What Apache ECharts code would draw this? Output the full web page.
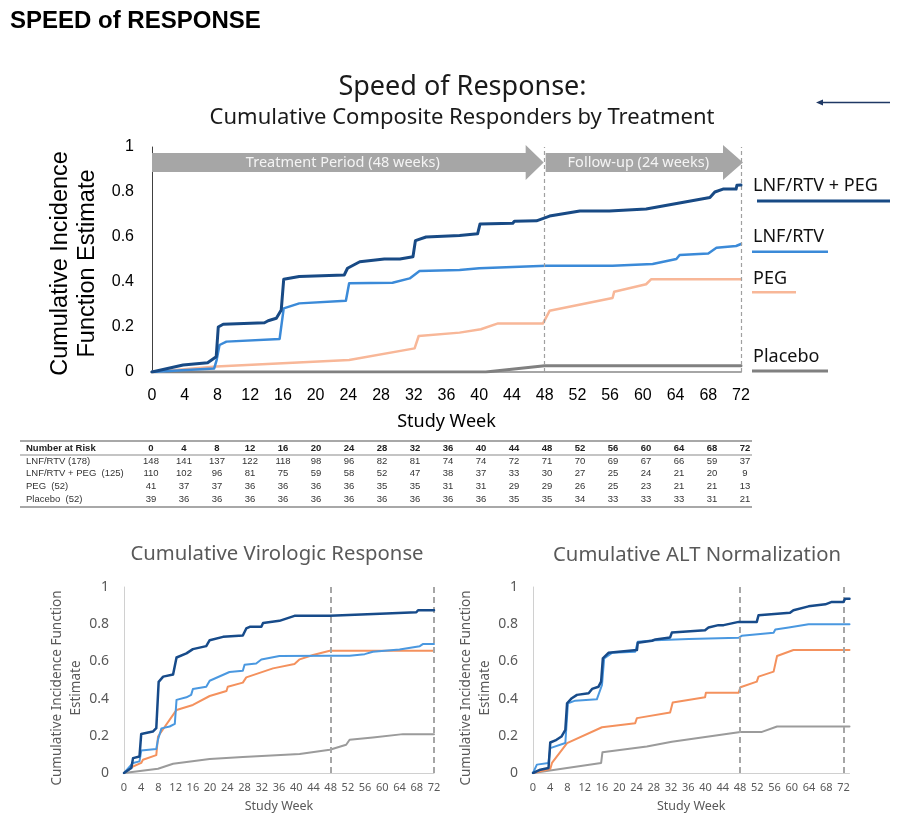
<!DOCTYPE html>
<html><head><meta charset="utf-8">
<script src="https://cdn.jsdelivr.net/npm/echarts@6/dist/echarts.min.js"></script>
<style>html,body{margin:0;padding:0;background:#fff}#c{width:903px;height:828px}</style>
</head><body><div id="c"></div><script>
// ---------- data ----------
const weekTicks = [0,4,8,12,16,20,24,28,32,36,40,44,48,52,56,60,64,68,72];
const seriesNames = ['LNF/RTV + PEG','LNF/RTV','PEG','Placebo'];

// main panel: composite responders
const mainCombo = [[0,0],[3.8,0.031],[6.8,0.041],[7.85,0.068],[8.1,0.2],[8.7,0.212],[13.75,0.219],[14.2,0.228],[15.2,0.239],[15.8,0.276],[16.1,0.412],[18,0.424],[23.5,0.431],[23.9,0.461],[25.4,0.49],[28.4,0.502],[30.3,0.502],[31.9,0.512],[32.2,0.584],[33.5,0.6],[37.6,0.607],[39.8,0.614],[40.1,0.658],[44.1,0.661],[44.3,0.67],[47,0.672],[48.1,0.686],[48.6,0.693],[52.3,0.716],[55.9,0.716],[60.4,0.724],[68.2,0.776],[68.8,0.8],[69.8,0.813],[71.4,0.813],[71.5,0.83],[72,0.831]];
const mainLnf = [[0,0],[4.2,0.009],[7.6,0.016],[7.9,0.053],[8.25,0.12],[9.1,0.135],[15.6,0.147],[16.1,0.283],[18,0.305],[23.7,0.317],[24.1,0.394],[29.4,0.397],[31.5,0.416],[32.7,0.449],[37.6,0.453],[40,0.461],[48.2,0.472],[56.3,0.472],[61.2,0.48],[64.1,0.502],[64.5,0.52],[68,0.527],[69,0.552],[71.4,0.56],[72,0.569]];
const mainPeg = [[0,0],[7.85,0.024],[24.1,0.053],[32.1,0.105],[32.6,0.16],[37.6,0.175],[40.2,0.19],[42.3,0.216],[47.8,0.216],[48.6,0.272],[56.3,0.329],[56.5,0.357],[60.4,0.39],[61,0.412],[72,0.412]];
const mainPlacebo = [[0,0],[40.8,0],[48,0.028],[72,0.028]];

// virologic response
const virCombo = [[0,0],[1.7,0.027],[2.1,0.08],[3.6,0.089],[4.0,0.21],[6.7,0.223],[7.5,0.241],[8.05,0.49],[9.1,0.518],[11.4,0.53],[12.2,0.621],[14.5,0.643],[16,0.666],[19.1,0.682],[19.9,0.714],[23,0.732],[27.6,0.739],[28.4,0.777],[29.2,0.786],[31.9,0.786],[32.3,0.807],[36.1,0.818],[39.6,0.845],[47.8,0.845],[60.9,0.857],[67.9,0.864],[68.3,0.875],[72,0.875]];
const virLnf = [[0,0],[2.1,0.054],[3.6,0.0625],[4.0,0.121],[7.5,0.129],[7.9,0.18],[8.7,0.24],[10.6,0.25],[11.8,0.264],[12.2,0.393],[14.5,0.407],[15.6,0.42],[16,0.452],[19.1,0.464],[19.9,0.496],[24.5,0.543],[27.6,0.55],[28,0.582],[30.7,0.589],[31.9,0.61],[36.1,0.629],[47.8,0.63],[52.4,0.63],[55.9,0.639],[57.8,0.652],[64,0.664],[68.7,0.682],[69.4,0.693],[72,0.693]];
const virPeg = [[0,0],[1.3,0.027],[4,0.054],[4.4,0.071],[7.5,0.096],[7.9,0.196],[12.2,0.339],[16,0.366],[19.9,0.414],[23.8,0.441],[24.1,0.464],[27.6,0.486],[28.4,0.514],[34.6,0.5625],[39.6,0.586],[40.8,0.611],[43.9,0.634],[47.8,0.657],[72,0.657]];
const virPlacebo = [[0,0],[7.9,0.023],[11.4,0.05],[19.9,0.075],[27.6,0.086],[40.8,0.102],[47.8,0.125],[51.6,0.152],[52.4,0.179],[57.8,0.191],[64.8,0.209],[72,0.209]];

// ALT normalization
const altCombo = [[0,0],[1.7,0.018],[3.6,0.027],[4,0.164],[5.2,0.175],[6.6,0.196],[7.5,0.232],[7.9,0.375],[9,0.402],[10.2,0.42],[12.9,0.429],[13.7,0.452],[15.2,0.464],[15.8,0.491],[16.2,0.616],[17.5,0.646],[24.1,0.661],[24.3,0.7],[27.6,0.711],[28.4,0.718],[31.8,0.729],[32.2,0.755],[39.9,0.768],[40.7,0.782],[43,0.795],[44.2,0.795],[47.7,0.8125],[51.9,0.8125],[52.3,0.848],[59.6,0.861],[60.4,0.875],[63.9,0.896],[67.8,0.907],[69.3,0.92],[72,0.92],[72.4,0.9375],[73.4,0.9375]];
const altLnf = [[0,0],[0.9,0.045],[3.6,0.054],[4,0.134],[7.5,0.161],[8.1,0.375],[9.8,0.389],[14.8,0.396],[16,0.473],[16.5,0.616],[18.3,0.646],[23.7,0.652],[24.3,0.705],[28.4,0.714],[36.1,0.72],[47.7,0.727],[48.4,0.7375],[55.8,0.754],[56.2,0.771],[59.3,0.782],[63.9,0.8],[73.4,0.8]];
const altPeg = [[0,0],[4,0.021],[4.4,0.054],[7.9,0.161],[16,0.246],[23.7,0.268],[24.1,0.295],[31.8,0.325],[32.4,0.379],[39.9,0.407],[40.1,0.432],[47.7,0.432],[48.1,0.461],[51.9,0.491],[52.3,0.518],[55.8,0.545],[56.6,0.629],[60.4,0.661],[73.4,0.661]];
const altPlacebo = [[0,0],[15.8,0.054],[16.1,0.111],[26.4,0.143],[32.2,0.168],[48.1,0.221],[53.1,0.221],[56.6,0.25],[73.4,0.25]];

// number at risk table
const riskLabels = ['LNF/RTV (178)','LNF/RTV + PEG  (125)','PEG  (52)','Placebo  (52)'];
const riskLnf = [148,141,137,122,118,98,96,82,81,74,74,72,71,70,69,67,66,59,37];
const riskCombo = [110,102,96,81,75,59,58,52,47,38,37,33,30,27,25,24,21,20,9];
const riskPeg = [41,37,37,36,36,36,36,35,35,31,31,29,29,26,25,23,21,21,13];
const riskPlacebo = [39,36,36,36,36,36,36,36,36,36,36,35,35,34,33,33,33,31,21];

const periodMarks = [48,72];
// ---------- styles ----------
const SANS = 'Noto Sans', ARIAL = 'Liberation Sans';
const cMain = ['#184a85','#3b8ad8','#f8b798','#808080'];
const cSub = ['#174b8a','#4a98e0','#f4915d','#9b9b9b'];

const chart = echarts.init(document.getElementById('c'), null, {renderer:'canvas'});

function ln(name, data, color, width, idx, z, mark) {
  const s = {type:'line', name, data, xAxisIndex:idx, yAxisIndex:idx, showSymbol:false, symbol:'none',
    lineStyle:{color, width, cap:'round', join:'round'}, itemStyle:{color}, silent:true, z};
  if (mark) s.markLine = mark;
  return s;
}
const mkMain = {symbol:'none', silent:true, label:{show:false}, animation:false,
  lineStyle:{type:[4,3], color:'#a0a0a0', width:1.2}, data: periodMarks.map(v=>({xAxis:v}))};
const mkSub = {symbol:'none', silent:true, label:{show:false}, animation:false,
  lineStyle:{type:[6,4], color:'#a6a6a6', width:2}, data: periodMarks.map(v=>({xAxis:v}))};

function subX(idx, max) {
  return {type:'value', gridIndex:idx, min:0, max, interval:4,
    axisLine:{show:true, lineStyle:{color:'#d0d0d0', width:1}}, axisTick:{show:false}, splitLine:{show:false},
    axisLabel:{fontFamily:SANS, fontSize:11, color:'#595959', margin:9, formatter:v=> (v%4===0? String(v):'')},
    name:'Study Week', nameLocation:'middle', nameGap:27, nameTextStyle:{fontFamily:SANS, fontSize:12.5, color:'#595959'}};
}
function subY(idx) {
  return {type:'value', gridIndex:idx, min:0, max:1, interval:0.2,
    axisLine:{show:true, lineStyle:{color:'#d0d0d0', width:1}}, axisTick:{show:false}, splitLine:{show:false},
    axisLabel:{fontFamily:SANS, fontSize:14, color:'#595959', margin:15},
    name:'Cumulative Incidence Function\nEstimate', nameLocation:'middle', nameRotate:90, nameGap:37,
    nameTextStyle:{fontFamily:SANS, fontSize:13.5, lineHeight:19, color:'#595959', padding:[0,16,0,0]}};
}

chart.setOption({
  animation:false,
  grid:[
    {left:152, top:147, width:589, height:225},
    {left:124, top:587, width:310, height:186},
    {left:533, top:587, width:316.5, height:186}
  ],
  xAxis:[
    {type:'value', gridIndex:0, min:0, max:72, interval:4,
      axisLine:{show:true, lineStyle:{color:'#a6a6a6', width:2}}, axisTick:{show:false}, splitLine:{show:false},
      axisLabel:{fontFamily:ARIAL, fontSize:16, color:'#000', margin:16},
      name:'Study Week', nameLocation:'middle', nameGap:41, nameTextStyle:{fontFamily:SANS, fontSize:18, color:'#000'}},
    subX(1,72), subX(2,73.4)
  ],
  yAxis:[
    {type:'value', gridIndex:0, min:0, max:1, interval:0.2,
      axisLine:{show:true, lineStyle:{color:'#404040', width:1}}, axisTick:{show:false}, splitLine:{show:false},
      axisLabel:{fontFamily:ARIAL, fontSize:16, color:'#000', margin:18},
      name:'Cumulative Incidence\nFunction Estimate', nameLocation:'middle', nameRotate:90, nameGap:38,
      nameTextStyle:{fontFamily:ARIAL, fontSize:23.5, lineHeight:27, color:'#000', padding:[0,8,0,0]}},
    subY(1), subY(2)
  ],
  series:[
    ln(seriesNames[3], mainPlacebo, cMain[3], 3, 0, 2, mkMain),
    ln(seriesNames[2], mainPeg, cMain[2], 2.5, 0, 3),
    ln(seriesNames[1], mainLnf, cMain[1], 2.5, 0, 4),
    ln(seriesNames[0], mainCombo, cMain[0], 3, 0, 5),
    ln(seriesNames[3], virPlacebo, cSub[3], 2, 1, 2, mkSub),
    ln(seriesNames[2], virPeg, cSub[2], 2, 1, 3),
    ln(seriesNames[1], virLnf, cSub[1], 2, 1, 4),
    ln(seriesNames[0], virCombo, cSub[0], 2.5, 1, 5),
    ln(seriesNames[3], altPlacebo, cSub[3], 2, 2, 2, mkSub),
    ln(seriesNames[2], altPeg, cSub[2], 2, 2, 3),
    ln(seriesNames[1], altLnf, cSub[1], 2, 2, 4),
    ln(seriesNames[0], altCombo, cSub[0], 2.5, 2, 5)
  ]
});

// ---------- annotations ----------
const g = [];
function txt(x, y, text, font, size, color, align, weight) {
  g.push({type:'text', x, y, silent:true, z:10,
    style:{text, fontFamily:font, fontSize:size, fill:color, align:align||'center', verticalAlign:'middle', fontWeight:weight||'normal'}});
}
function rect(x, y, w, h, color) {
  g.push({type:'rect', silent:true, z:10, shape:{x, y, width:w, height:h}, style:{fill:color}});
}
txt(10, 21, 'SPEED of RESPONSE', ARIAL, 24, '#000', 'left', 'bold');
txt(462.5, 87, 'Speed of Response:', SANS, 27, '#1a1a1a');
txt(462, 118, 'Cumulative Composite Responders by Treatment', SANS, 22, '#1a1a1a');
txt(277, 554, 'Cumulative Virologic Response', SANS, 20.3, '#595959');
txt(697, 555, 'Cumulative ALT Normalization', SANS, 20.3, '#595959');

// top right arrow
g.push({type:'line', silent:true, shape:{x1:890, y1:102.5, x2:821, y2:102.5}, style:{stroke:'#1f3864', lineWidth:1.5}});
g.push({type:'polygon', silent:true, shape:{points:[[816,102.5],[823,99.5],[823,105.5]]}, style:{fill:'#1f3864'}});

// period arrows, positioned from the main axis
const p0 = chart.convertToPixel({gridIndex:0}, [0,1]);
const p48 = chart.convertToPixel({gridIndex:0}, [48,1]);
const p72 = chart.convertToPixel({gridIndex:0}, [72,1]);
const yc = p0[1] + 15.5;
function arrow(xa, xb, hl, label, col) {
  const bh = 9.4, hh = 17.5;
  g.push({type:'polygon', silent:true, z:8, shape:{points:[[xa,yc-bh],[xb-hl,yc-bh],[xb-hl,yc-hh],[xb,yc],[xb-hl,yc+hh],[xb-hl,yc+bh],[xa,yc+bh]]},
    style:{fill:col}});
  txt((xa + xb - hl)/2 + 4, yc + 0.5, label, SANS, 14.5, '#f4f4f4');
}
arrow(p0[0], p48[0]-1, 18, 'Treatment Period (48 weeks)', '#a6a6a6');
arrow(p48[0]+1, p72[0]+2, 20, 'Follow-up (24 weeks)', '#a6a6a6');

// legend labels (main)
const legY = [186, 237, 278.5, 357];
const legUnder = [[757,199.5,133,3],[752,250.5,76,2.5],[752,291,44,2.5],[752,369.5,76,3]];
seriesNames.forEach((n,i)=>{
  txt(753, legY[i], n, SANS, 18, '#111', 'left');
  rect(legUnder[i][0], legUnder[i][1], legUnder[i][2], legUnder[i][3], cMain[i]);
});

// number at risk table
const tL = 20, tR = 752;
rect(tL, 440, tR-tL, 2, '#a8a8a8');
rect(tL, 454.5, tR-tL, 1, '#8a8a8a');
rect(tL, 506, tR-tL, 2, '#a8a8a8');
const colX = w => 151 + (w/4)*33;
txt(26, 448, 'Number at Risk', ARIAL, 9.5, '#222', 'left', 'bold');
weekTicks.forEach(w => txt(colX(w), 448, String(w), ARIAL, 9.5, '#222', 'center', 'bold'));
const rows = [riskLnf, riskCombo, riskPeg, riskPlacebo];
const rowY = [461.5, 473.5, 486, 499];
rows.forEach((r,i)=>{
  txt(26, rowY[i], riskLabels[i], ARIAL, 9.5, '#333', 'left');
  r.forEach((v,j)=> txt(colX(weekTicks[j]), rowY[i], String(v), ARIAL, 9.5, '#333', 'center'));
});

chart.setOption({graphic: g});
</script></body></html>
